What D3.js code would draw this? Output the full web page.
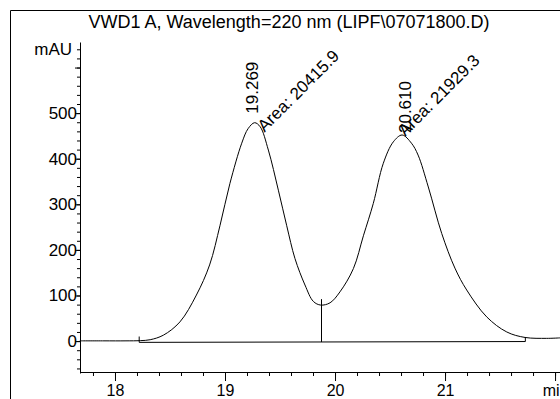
<!DOCTYPE html>
<html>
<head>
<meta charset="utf-8">
<script src="https://cdn.jsdelivr.net/npm/d3@7"></script>
<style>
  html, body { margin: 0; padding: 0; background: #fff; }
  svg { display: block; font-family: Arial, "Liberation Sans", Helvetica, sans-serif; }
</style>
</head>
<body>
<svg id="chart" width="560" height="399"></svg>
<script>
// Chromatogram trace: retention time (min) and detector signal (mAU)
const times  = [17.68, 17.90, 18.10, 18.23, 18.32, 18.44, 18.59, 18.74, 18.86, 18.955,
                19.045, 19.152, 19.21, 19.269, 19.32, 19.394, 19.485, 19.561, 19.636, 19.727,
                19.803, 19.87, 19.955, 20.045, 20.167, 20.258, 20.348, 20.439, 20.53, 20.61,
                20.695, 20.755, 20.848, 20.97, 21.09, 21.197, 21.379, 21.561, 21.727, 21.924, 22.045];
const signal = [0.5, 0.5, 0.5, 1, 3, 13, 42, 101, 167, 254,
                346, 434, 466, 479, 470, 419, 331, 253, 181, 123,
                87, 79, 84, 108, 159, 231, 302, 390, 437, 452,
                434, 408, 338, 236, 160, 112, 53, 20, 8, 6, 7];

// Integrated peaks
const peakTimes   = [19.269, 20.610];
const peakHeights = [479, 452];
const peakAreas   = ["20415.9", "21929.3"];

// Integration baseline (start, end) and valley drop line
const baseTimes   = [18.22, 21.73];
const baseValues  = [-2.8, -1.0];
const baseTickTop = [10, 9];
const dropTime    = 19.87;
const dropTop     = 92;

// Axis ticks
const xMajor = [18, 19, 20, 21, 22];
const xLabels = ["18", "19", "20", "21", "min"];
const yMajor = [0, 100, 200, 300, 400, 500, 600];
const yLabels = ["0", "100", "200", "300", "400", "500", ""];

const title = "VWD1 A, Wavelength=220 nm (LIPF\\07071800.D)";

const svg = d3.select("#chart");
const W = 560, H = 399;
const FONT = 17;

const x = d3.scaleLinear().domain([17.682, 22.045]).range([80, 560]);
const y = d3.scaleLinear().domain([-70, 656]).range([373, 42]);

// outer frame
svg.append("path")
  .attr("d", `M10.5,${H + 5}V10.5H${W + 5}`)
  .attr("fill", "none").attr("stroke", "#000").attr("stroke-width", 1);

// title
svg.append("text")
  .attr("x", 289).attr("y", 28)
  .attr("text-anchor", "middle")
  .attr("font-size", 18)
  .text(title);

// y axis: minor ticks every 20 mAU
svg.append("g").attr("transform", "translate(80,0)")
  .call(d3.axisLeft(y).tickValues(d3.range(-60, 641, 20)).tickSize(3).tickSizeOuter(0).tickFormat(""))
  .call(g => g.select(".domain").attr("stroke", "#000"));

// y axis: major ticks with labels
const yAx = svg.append("g").attr("transform", "translate(80,0)")
  .call(d3.axisLeft(y).tickValues(yMajor).tickSize(5).tickSizeOuter(0).tickPadding(-2)
        .tickFormat((d, i) => yLabels[i]));
yAx.select(".domain").remove();
yAx.selectAll("text").attr("font-size", FONT).attr("font-family", null).attr("fill", "#000");

// unit label at the top of the y axis
svg.append("text")
  .attr("x", 72).attr("y", y(640))
  .attr("dy", "0.35em")
  .attr("text-anchor", "end")
  .attr("font-size", FONT)
  .text("mAU");

// x axis: minor ticks every 0.2 min
svg.append("g").attr("transform", "translate(0,372)")
  .call(d3.axisBottom(x).tickValues(d3.range(17.8, 22.05, 0.2)).tickSize(4).tickSizeOuter(0).tickFormat(""))
  .call(g => g.select(".domain").attr("stroke", "#000"));

// x axis: major ticks with labels
const xAx = svg.append("g").attr("transform", "translate(0,372)")
  .call(d3.axisBottom(x).tickValues(xMajor).tickSize(9).tickSizeOuter(0).tickPadding(4)
        .tickFormat((d, i) => xLabels[i]));
xAx.select(".domain").remove();
xAx.selectAll("text").attr("font-size", 16).attr("font-family", null).attr("fill", "#000");

// signal trace
const pts = times.map((t, i) => [t, signal[i]]);
svg.append("path")
  .datum(pts)
  .attr("fill", "none")
  .attr("stroke", "#000")
  .attr("stroke-width", 1)
  .attr("d", d3.line().x(d => x(d[0])).y(d => y(d[1])).curve(d3.curveCatmullRom.alpha(0.5)));

// integration baseline with end marks
const baseLine = d3.line().x(d => x(d[0])).y(d => y(d[1]));
svg.append("path")
  .attr("d", baseLine([[baseTimes[0], baseValues[0]], [baseTimes[1], baseValues[1]]]))
  .attr("fill", "none").attr("stroke", "#000").attr("stroke-width", 1);
baseTimes.forEach((t, i) => {
  svg.append("line")
    .attr("x1", x(t)).attr("x2", x(t))
    .attr("y1", y(baseValues[i])).attr("y2", y(baseTickTop[i]))
    .attr("stroke", "#000");
});

// valley drop line
const baseAt = t => baseValues[0] + (baseValues[1] - baseValues[0]) * (t - baseTimes[0]) / (baseTimes[1] - baseTimes[0]);
svg.append("line")
  .attr("x1", Math.round(x(dropTime)) + 0.5).attr("x2", Math.round(x(dropTime)) + 0.5)
  .attr("y1", y(baseAt(dropTime))).attr("y2", y(dropTop))
  .attr("stroke", "#000");

// peak annotations: retention time (vertical) and area (diagonal)
const rtShift   = [[3, -9], [9, -2]];
const areaShift = [[10, 10], [3, 2]];
peakTimes.forEach((t, i) => {
  const px = x(t), py = y(peakHeights[i]);
  svg.append("text")
    .attr("transform", `translate(${px + rtShift[i][0]},${py + rtShift[i][1]}) rotate(-90)`)
    .attr("font-size", FONT)
    .text(t.toFixed(3));
  svg.append("text")
    .attr("transform", `translate(${px + areaShift[i][0]},${py + areaShift[i][1]}) rotate(-45)`)
    .attr("font-size", FONT)
    .text("Area: " + peakAreas[i]);
});
</script>
</body>
</html>
